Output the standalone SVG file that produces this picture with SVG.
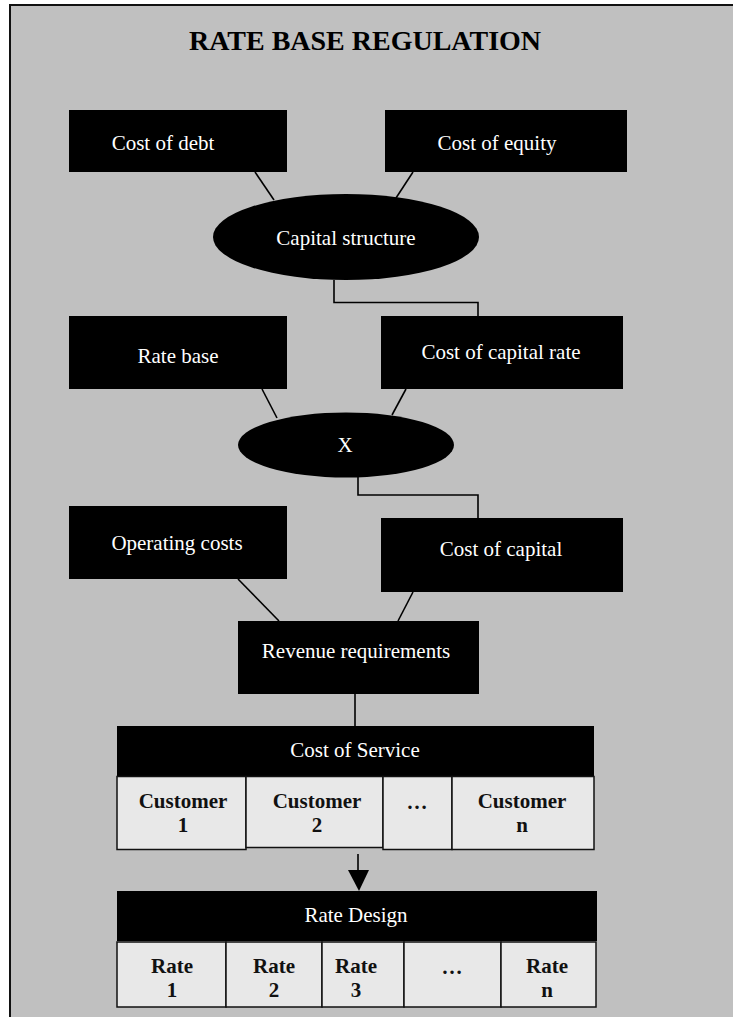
<svg xmlns="http://www.w3.org/2000/svg" width="733" height="1017" viewBox="0 0 733 1017">
<style>
  .box { fill: #000; }
  .lbl { font-family: "Liberation Serif", "Times New Roman", serif; font-size: 21px; fill: #fff; text-anchor: middle; }
  .cell { fill: #e8e8e8; stroke: #111; stroke-width: 1.5; }
  .ct { font-family: "Liberation Serif", "Times New Roman", serif; font-size: 21px; font-weight: bold; fill: #111; text-anchor: middle; }
  .conn { fill: none; stroke: #000; stroke-width: 1.6; }
  .title { font-family: "Liberation Serif", "Times New Roman", serif; font-size: 28px; font-weight: bold; fill: #000; text-anchor: middle; }
</style>
<rect x="0" y="0" width="733" height="1017" fill="#fff"/>
<rect x="10" y="5" width="740" height="1030" fill="#c0c0c0" stroke="#111" stroke-width="2"/>
<text class="title" x="365" y="50">RATE BASE REGULATION</text>

<g id="connectors">
  <line class="conn" x1="255" y1="172" x2="274" y2="200"/>
  <line class="conn" x1="413" y1="172" x2="396" y2="198"/>
  <polyline class="conn" points="334,280 334,302.5 478,302.5 478,316"/>
  <line class="conn" x1="262" y1="389" x2="277" y2="418"/>
  <line class="conn" x1="406" y1="389" x2="392" y2="415"/>
  <polyline class="conn" points="358,477 358,495 478,495 478,518"/>
  <line class="conn" x1="238" y1="579" x2="279" y2="621"/>
  <line class="conn" x1="413" y1="592" x2="398" y2="621"/>
  <line class="conn" x1="355" y1="694" x2="355" y2="726"/>
  <line class="conn" x1="358" y1="854" x2="358" y2="872"/>
  <polygon points="348,870 369,870 359,891" fill="#000"/>
</g>

<g id="cost-of-debt">
  <rect class="box" x="69" y="110" width="218" height="62"/>
  <text class="lbl" x="163" y="150">Cost of debt</text>
</g>
<g id="cost-of-equity">
  <rect class="box" x="385" y="110" width="242" height="62"/>
  <text class="lbl" x="497" y="150">Cost of equity</text>
</g>
<g id="capital-structure">
  <ellipse cx="346" cy="237" rx="133" ry="43" fill="#000"/>
  <text class="lbl" x="346" y="245">Capital structure</text>
</g>
<g id="rate-base">
  <rect class="box" x="69" y="316" width="218" height="73"/>
  <text class="lbl" x="178" y="363">Rate base</text>
</g>
<g id="cost-of-capital-rate">
  <rect class="box" x="381" y="316" width="242" height="73"/>
  <text class="lbl" x="501" y="359">Cost of capital rate</text>
</g>
<g id="multiply">
  <ellipse cx="346" cy="445" rx="108" ry="32.5" fill="#000"/>
  <text class="lbl" x="345" y="452">X</text>
</g>
<g id="operating-costs">
  <rect class="box" x="69" y="506" width="218" height="73"/>
  <text class="lbl" x="177" y="550">Operating costs</text>
</g>
<g id="cost-of-capital">
  <rect class="box" x="381" y="518" width="242" height="74"/>
  <text class="lbl" x="501" y="556">Cost of capital</text>
</g>
<g id="revenue-requirements">
  <rect class="box" x="238" y="621" width="241" height="73"/>
  <text class="lbl" x="356" y="658">Revenue requirements</text>
</g>

<g id="cost-of-service">
  <rect class="box" x="117" y="726" width="477" height="50"/>
  <text class="lbl" x="355" y="757">Cost of Service</text>
  <rect class="cell" x="117" y="776.5" width="129" height="73"/>
  <rect class="cell" x="246" y="776.5" width="137" height="71"/>
  <rect class="cell" x="383" y="776.5" width="69" height="73"/>
  <rect class="cell" x="452" y="776.5" width="142" height="73"/>
  <text class="ct" x="183" y="808">Customer</text>
  <text class="ct" x="183" y="832">1</text>
  <text class="ct" x="317" y="808">Customer</text>
  <text class="ct" x="317" y="832">2</text>
  <text class="ct" x="417" y="809">…</text>
  <text class="ct" x="522" y="808">Customer</text>
  <text class="ct" x="522" y="832">n</text>
</g>

<g id="rate-design">
  <rect class="box" x="117" y="891" width="480" height="50"/>
  <text class="lbl" x="356" y="922">Rate Design</text>
  <rect class="cell" x="117" y="942" width="109" height="65"/>
  <rect class="cell" x="226" y="942" width="96" height="65"/>
  <rect class="cell" x="322" y="942" width="82" height="65"/>
  <rect class="cell" x="404" y="942" width="97" height="65"/>
  <rect class="cell" x="501" y="942" width="95" height="65"/>
  <text class="ct" x="172" y="973">Rate</text>
  <text class="ct" x="172" y="997">1</text>
  <text class="ct" x="274" y="973">Rate</text>
  <text class="ct" x="274" y="997">2</text>
  <text class="ct" x="356" y="973">Rate</text>
  <text class="ct" x="356" y="997">3</text>
  <text class="ct" x="452" y="974">…</text>
  <text class="ct" x="547" y="973">Rate</text>
  <text class="ct" x="547" y="997">n</text>
</g>
</svg>
